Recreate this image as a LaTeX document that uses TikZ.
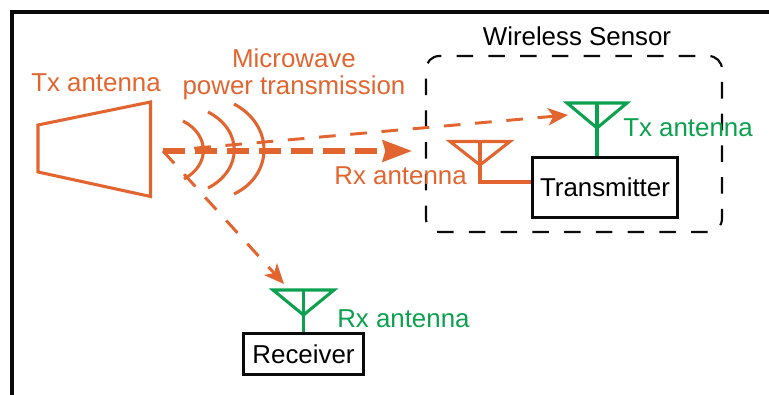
\documentclass[tikz,border=0pt]{standalone}
\usepackage{fontspec}
\setmainfont{Liberation Sans}
\usepackage{xcolor}
\usetikzlibrary{arrows.meta}
\definecolor{beamorange}{HTML}{E2652F}
\definecolor{antgreen}{HTML}{0BA14F}
\definecolor{framedark}{HTML}{0A0A0A}

\begin{document}
\begin{tikzpicture}[
  x=0.75pt, y=-0.75pt,
  font=\fontsize{19.4}{21}\selectfont,
  lbl/.style={inner sep=0pt, align=center},
  blackbox/.style={
    rectangle, draw=framedark, line width=2.2pt, fill=white,
    inner sep=0pt, text=black
  },
  orangeline/.style={draw=beamorange, line width=2.3pt},
  greenline/.style={draw=antgreen, line width=2.3pt},
  beam/.style={
    draw=beamorange, line width=4pt, dash pattern=on 16.5pt off 7.5pt,
    -{Stealth[length=22pt, width=16pt, inset=2pt]}
  },
  thinbeam/.style={
    draw=beamorange, line width=2.2pt, dash pattern=on 12.5pt off 11pt,
    -{Stealth[length=15pt, width=13pt, inset=4pt]}
  },
]
\useasboundingbox (0,0) rectangle (769,395);

% Frame
\coordinate (framebl) at (12,395);
\coordinate (frametl) at (12,12);
\coordinate (frametr) at (769,12);
\draw[framedark, line width=2.6pt] (framebl) -- (frametl) -- (frametr);

% Sensor outline
\node[lbl] (sensorlabel) at (577,36) {Wireless Sensor};
\draw[framedark, line width=1.6pt, dash pattern=on 12.4pt off 11.4pt, dash phase=-7pt, rounded corners=10pt]
  (426,56) rectangle (722,232);

% Horn
\node[lbl, text=beamorange] (txlabel) at (96,83) {Tx antenna};
\draw[orangeline, line join=miter] (38,125) -- (150.5,102) -- (150.5,196.5) -- (38,172) -- cycle;

% Wavefronts
\node[lbl, text=beamorange] (mwlabel) at (294,74) {Microwave\\[-1pt]power transmission};
\draw[orangeline] (183,121) .. controls (210,135) and (210,165) .. (184,179);
\draw[orangeline] (208,112) .. controls (243,130) and (243,170) .. (208,188);
\draw[orangeline] (234,104) .. controls (274,125) and (274,175) .. (234,194);

% Boxes
\node[blackbox, minimum width=109pt, minimum height=45.5pt] (transmitter) at (605,187.5) {Transmitter};
\node[blackbox, minimum width=90pt, minimum height=31pt] (receiver) at (303.5,354) {Receiver};

% Rx antenna on the sensor
\coordinate (rxleft) at (450,141.5);
\coordinate (rxright) at (510,141.5);
\coordinate (rxapex) at (480,165);
\coordinate (rxtop) at (480,141.5);
\coordinate (rxfoot) at (480,182);
\draw[orangeline] (rxleft) -- (rxright) -- (rxapex) -- cycle;
\draw[orangeline] (rxtop) -- (rxfoot) -- (rxfoot -| transmitter.west);
\node[lbl, text=beamorange, anchor=east] (rxlabel) at (467,176) {Rx antenna};

% Tx antenna on the sensor
\coordinate (txleft) at (567,103);
\coordinate (txright) at (627,103);
\coordinate (txapex) at (597,128);
\coordinate (txtop) at (597,103);
\draw[greenline] (txleft) -- (txright) -- (txapex) -- cycle;
\draw[greenline] (txtop) -- (txtop |- transmitter.north);
\node[lbl, text=antgreen, anchor=west] (txgreen) at (623,128) {Tx antenna};

% Rx antenna on the receiver
\coordinate (recleft) at (273,290);
\coordinate (recright) at (334,290);
\coordinate (recapex) at (303.5,315);
\coordinate (rectop) at (303.5,290);
\draw[greenline] (recleft) -- (recright) -- (recapex) -- cycle;
\draw[greenline] (rectop) -- (rectop |- receiver.north);
\node[lbl, text=antgreen, anchor=west] (recgreen) at (337,319) {Rx antenna};

% Beams
\coordinate (beamstart) at (163,151);
\coordinate (beamend) at (412,151);
\coordinate (uptip) at (568,115);
\coordinate (downtip) at (284,284);
\draw[beam] (beamstart) -- (beamend);
\draw[thinbeam] (beamstart) -- (uptip);
\draw[thinbeam] (beamstart) -- (downtip);

\end{tikzpicture}
\end{document}
